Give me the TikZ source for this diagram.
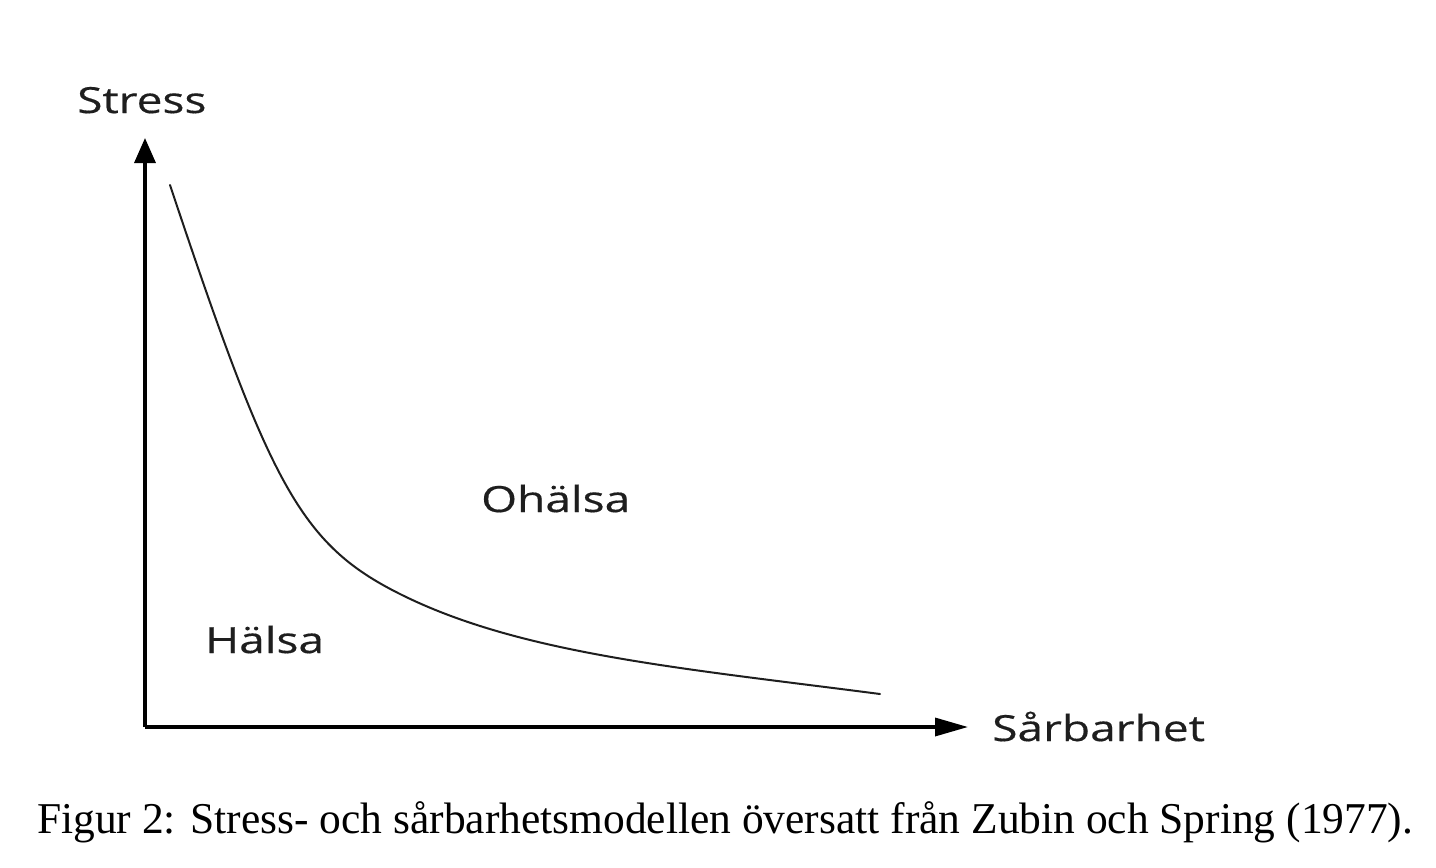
\documentclass[tikz,border=0pt]{standalone}
\usepackage{fontspec}
\usepackage{graphicx}
\usetikzlibrary{arrows.meta}
\newfontfamily\labelfont[FakeStretch=1.28,FakeBold=0.4]{Open Sans}
\newfontfamily\capfont{Liberation Serif}
\definecolor{inkcol}{HTML}{1E1E1E}
\tikzset{
  axis/.style={line width=3.4pt, draw=black},
  curve/.style={line width=2pt, draw=inkcol, line cap=round},
  lbl/.style={anchor=base west, inner sep=0pt, text=inkcol, font=\labelfont\fontsize{36}{40}\selectfont},
}
\begin{document}
\begin{tikzpicture}[x=1pt,y=-1pt]
\useasboundingbox (0,0) rectangle (1436,868);
\coordinate (O) at (145,727);
\coordinate (ytip) at (145,138);
\coordinate (xtip) at (968,727);
\coordinate (cs) at (170,185);
\coordinate (cm) at (400,594);
\coordinate (ce) at (880,694);
\draw[axis, -{Triangle[length=25pt,width=21pt]}] (O) -- (ytip);
\draw[axis, -{Triangle[length=33pt,width=18pt]}] (O) -- (xtip);
\draw[curve] (cs) .. controls (270,485) and (300,544) .. (cm)
  .. controls (520,654) and (680,668) .. (ce);
\node[lbl] (stress) at (77,113) {Stress};
\node[lbl] (ohalsa) at (481,512) {Ohälsa};
\node[lbl] (halsa) at (205,653) {Hälsa};
\node[lbl] (sarb) at (992,741) {Sårbarhet};
\node[anchor=base west, inner sep=0pt, text=black] (cap) at (37,833) {\resizebox{1376pt}{\height}{\capfont\fontsize{44}{48}\selectfont Figur 2: Stress- och sårbarhetsmodellen översatt från Zubin och Spring (1977).}};
\end{tikzpicture}
\end{document}
